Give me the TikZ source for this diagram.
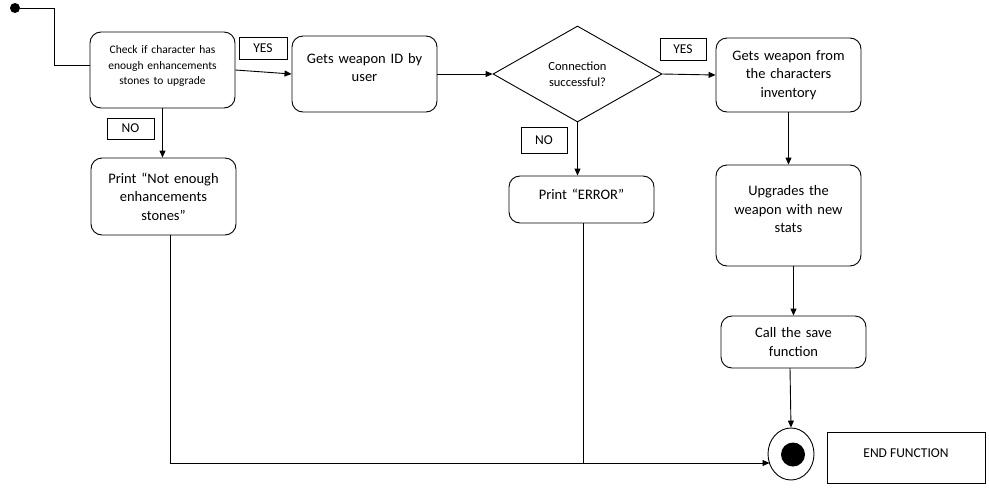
\documentclass[tikz,border=0pt]{standalone}
\usepackage{fontspec}
\setmainfont{Carlito}
\usetikzlibrary{shapes.geometric,arrows.meta}
\begin{document}
\begin{tikzpicture}[x=1pt,y=-1pt,
  box/.style={draw, rounded corners=11pt, line width=0.9pt, inner sep=0pt, align=center, font=\fontsize{14.5}{18.5}\selectfont},
  lbl/.style={draw, line width=0.9pt, inner sep=0pt, font=\fontsize{13.5}{16}\selectfont},
  arr/.style={-{Triangle[length=7pt,width=6pt]}, line width=0.9pt},
  ln/.style={line width=0.9pt}]
\useasboundingbox (0,0) rectangle (989,496);
% start
\node[circle, fill, inner sep=0pt, minimum size=10pt] (start) at (15,8) {};
% boxes
\node[box, minimum width=145pt, minimum height=76pt, text width=140pt, text depth=40pt, font=\fontsize{11.5}{15.5}\selectfont] (b1) at (162.5,70) {Check if character has\\enough enhancements\\stones to upgrade};
\node[box, minimum width=145pt, minimum height=76pt, text width=140pt, text depth=31pt, font=\fontsize{14.5}{18}\selectfont] (b2) at (364.5,74) {Gets weapon ID by\\user};
\node[draw, diamond, line width=0.9pt, inner sep=0pt, minimum width=169pt, minimum height=96pt, align=center, font=\fontsize{12.5}{16}\selectfont] (dia) at (577.5,74) {Connection\\successful?};
\node[box, minimum width=145pt, minimum height=74pt, text width=140pt] (b3) at (788.5,75) {Gets weapon from\\the characters\\inventory};
\node[box, minimum width=145pt, minimum height=101pt, text width=140pt, text depth=50pt] (b4) at (788.5,215.5) {Upgrades the\\weapon with new\\stats};
\node[box, minimum width=145pt, minimum height=52pt, text width=140pt] (b5) at (793.5,342) {Call the save\\function};
\node[box, minimum width=145pt, minimum height=77pt, text width=140pt] (p1) at (163.5,196.5) {Print “Not enough\\enhancements\\stones”};
\node[box, minimum width=145pt, minimum height=47pt, text width=140pt, text depth=11pt] (err) at (581.5,199.5) {Print “ERROR”};
% labels
\node[lbl, minimum width=48pt, minimum height=22pt] (yes1) at (263,48) {YES};
\node[lbl, minimum width=46pt, minimum height=22pt] (yes2) at (683,49) {YES};
\node[lbl, minimum width=47pt, minimum height=21pt] (no1) at (130.5,128.5) {NO};
\node[lbl, minimum width=46pt, minimum height=26pt] (no2) at (544,140) {NO};
% end
\node[draw, ellipse, line width=0.9pt, inner sep=0pt, minimum width=46pt, minimum height=52pt] (endc) at (791,454) {};
\node[circle, fill, inner sep=0pt, minimum size=24pt] (endi) at (793,454.5) {};
\node[draw, line width=0.9pt, inner sep=0pt, minimum width=158pt, minimum height=51pt, font=\fontsize{13.5}{16}\selectfont] (endf) at (906,457.5) {\raisebox{8pt}{END FUNCTION}};
% connectors
\coordinate (k) at (54,65);
\draw[ln] (start) -| (k) -- (k -| b1.west);
\draw[arr] (b1.east) -- (b2.west);
\draw[arr] (b2.east) -- (dia.west);
\draw[arr] (dia.east) -- (b3.west);
\draw[arr] (b1.south) -- (b1.south |- p1.north);
\draw[arr] (dia.south) -- (dia.south |- err.north);
\draw[arr] (b3.south) -- (b3.south |- b4.north);
\draw[arr] (b5.north |- b4.south) -- (b5.north);
\coordinate (s5) at (790,368);
\draw[arr] (s5) -- (endc.north);
\coordinate (j1) at (170,463);
\coordinate (j2) at (583,463);
\coordinate (jend) at (769.5,463);
\draw[ln] (j1 |- p1.south) -- (j1);
\draw[arr] (j1) -- (jend);
\draw[ln] (j2 |- err.south) -- (j2);
\end{tikzpicture}
\end{document}
